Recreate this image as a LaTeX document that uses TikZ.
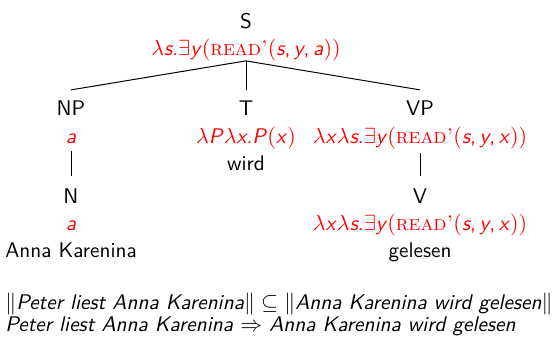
\documentclass[tikz,border=0pt]{standalone}
\usepackage{amssymb}
\newcommand{\fs}{\fontsize{10.6}{12.7}\selectfont}
\newcommand{\mv}[1]{\textsf{\itshape #1}}
\newcommand{\rdp}{\textrm{\scshape read'}}
\tikzset{
  cat/.style={anchor=base, font=\fs\sffamily, inner sep=0pt},
  sem/.style={anchor=base, text=red, font=\fs\sffamily, inner sep=0pt},
  brn/.style={line width=0.5pt},
  btxt/.style={anchor=base west, font=\fs\sffamily, inner sep=0pt}
}
\begin{document}
\begin{tikzpicture}[x=0.5pt,y=-0.5pt]
\useasboundingbox (0,0) rectangle (552,344);
% root
\node[cat] (S) at (246,28) {S};
\node[sem] (Ss) at (246,55) {$\lambda$\mv{s}.$\exists$\mv{y}$($\rdp$($\mv{s},\,\mv{y},\,\mv{a}$))$};
% daughters
\node[cat] (NP) at (71,115) {NP};
\node[sem] (NPs) at (71,143) {\mv{a}};
\node[cat] (T) at (246,115) {T};
\node[sem] (Ts) at (246,143) {$\lambda$\mv{P}$\lambda$\mv{x}.\mv{P}$($\mv{x}$)$};
\node[cat] (Tw) at (246,170) {wird};
\node[cat] (VP) at (420,115) {VP};
\node[sem] (VPs) at (420,143) {$\lambda$\mv{x}$\lambda$\mv{s}.$\exists$\mv{y}$($\rdp$($\mv{s},\,\mv{y},\,\mv{x}$))$};
% lower
\node[cat] (N) at (71,203) {N};
\node[sem] (Ns) at (71,230) {\mv{a}};
\node[cat] (Nw) at (71,257) {Anna Karenina};
\node[cat] (V) at (420,203) {V};
\node[sem] (Vs) at (420,230) {$\lambda$\mv{x}$\lambda$\mv{s}.$\exists$\mv{y}$($\rdp$($\mv{s},\,\mv{y},\,\mv{x}$))$};
\node[cat] (Vw) at (420,257) {gelesen};
% branches
\draw[brn] (Ss.south) -- ([yshift=5pt]NP.north);
\draw[brn] (Ss.south) -- ([yshift=5pt]T.north);
\draw[brn] (Ss.south) -- ([yshift=5pt]VP.north);
\draw[brn] ([yshift=-3.5pt]NPs.south) -- ([yshift=6pt]N.north);
\draw[brn] ([yshift=-2pt]VPs.south) -- ([yshift=6pt]V.north);
% bottom
\node[btxt] (L1) at (5,309) {$\|$\mv{Peter liest Anna Karenina}$\| \subseteq \|$\mv{Anna Karenina wird gelesen}$\|$};
\node[btxt] (L2) at (5,331) {\mv{Peter liest Anna Karenina} $\Rightarrow$ \mv{Anna Karenina wird gelesen}};
\end{tikzpicture}
\end{document}
